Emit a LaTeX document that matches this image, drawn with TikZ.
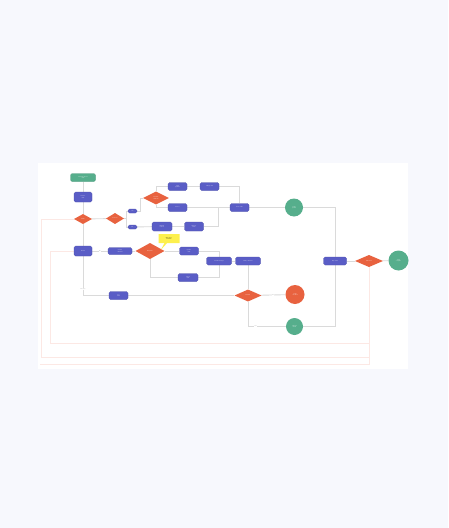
\documentclass[tikz,border=0pt]{standalone}
\usetikzlibrary{positioning,shapes.geometric,shapes.callouts,backgrounds}

\definecolor{pagebg}{HTML}{F7F8FD}
\definecolor{procblue}{HTML}{5A5DC6}
\definecolor{decred}{HTML}{E8623F}
\definecolor{termgreen}{HTML}{56AE8C}
\definecolor{noteyellow}{HTML}{FDF04D}
\definecolor{linegray}{HTML}{DADADA}
\definecolor{backred}{HTML}{FCE8E4}

\begin{document}
\begin{tikzpicture}[
  x=0.1cm, y=-0.1cm,
  font=\sffamily\fontsize{3.6}{4}\selectfont,
  proc/.style={rectangle, rounded corners=0.15cm, fill=procblue, draw=procblue!85!black, line width=0.6pt,
    minimum height=0.8cm, minimum width=1.9cm, inner sep=0pt, text=white, align=center},
  decision/.style={diamond, fill=decred, draw=none, minimum width=1.8cm, minimum height=1cm,
    inner sep=0pt, text=white, align=center},
  startbox/.style={rectangle, rounded corners=0.15cm, fill=termgreen, draw=termgreen!85!black, line width=0.6pt,
    minimum width=2.5cm, minimum height=0.8cm, inner sep=0pt, text=white, align=center},
  endpoint/.style={circle, fill=termgreen, draw=none, inner sep=0pt, text=white, align=center},
  stoppoint/.style={circle, fill=decred, draw=none, inner sep=0pt, text=white, align=center},
  note/.style={rectangle callout, fill=noteyellow, draw=none, minimum width=2.1cm, minimum height=0.9cm,
    inner sep=0pt, align=center, callout relative pointer={(-0.5cm,-0.7cm)}},
  link/.style={draw=linegray, line width=2.5pt},
  backlink/.style={draw=backred, line width=2.3pt},
  lbl/.style={fill=white, text=black!45, inner sep=0.6pt}
]
\begin{scope}[on background layer]
\fill[pagebg] (0,0) rectangle (448,528);
\fill[white] (37.5,163) rectangle (408,369);
\end{scope}
\useasboundingbox (0,0) rectangle (448,528);

% bend points
\coordinate (ca) at (41,357);
\coordinate (cb) at (50,343.3);
\coordinate (cc) at (39.5,364.3);
\coordinate (split) at (126,218.5);
\coordinate (rise) at (140,211);
\coordinate (merge) at (218,207.5);

% nodes
\node[startbox] (start) at (83,177.5) {Customer places\\order};
\node[proc, minimum width=1.8cm, minimum height=1cm] (recv) at (83,197) {Receive\\order};
\node[decision] (valid) at (83,219) {Valid?};
\node[decision, minimum height=1.1cm] (stock) at (115,218.5) {In stock?};
\node[proc, minimum width=0.9cm, minimum height=0.4cm] (yesbox) at (132.5,211) {Yes};
\node[proc, minimum width=0.9cm, minimum height=0.4cm] (nobox) at (132.5,227) {No};
\node[decision, minimum width=2.6cm, minimum height=1.3cm] (paym) at (156,198) {Payment\\method?};
\node[proc] (card) at (177.5,186.5) {Card\\payment};
\node[proc] (charge) at (209.5,186.5) {Charge card};
\node[proc] (invoice) at (177.5,207.5) {Invoice};
\node[proc, minimum width=2cm, minimum height=0.9cm] (reqstock) at (162,226.5) {Request\\restock};
\node[proc, minimum height=0.9cm] (restock) at (194,226.5) {Restock\\items};
\node[proc] (pack) at (239.5,207.5) {Pack order};
\node[endpoint, minimum size=1.8cm] (packed) at (294,207.5) {Order\\packed};
\node[proc, minimum width=2.3cm] (ship) at (335,261) {Ship order};
\node[decision, minimum width=2.8cm, minimum height=1.2cm] (deliv) at (369,261) {Delivered?};
\node[endpoint, minimum size=2cm] (done) at (398.5,260.5) {Order\\complete};

\node[proc, minimum width=1.8cm, minimum height=1cm] (review) at (83,251) {Review};
\node[proc, minimum width=2.4cm, minimum height=0.7cm] (contact) at (120,251) {Contact\\customer};
\node[decision, minimum width=2.9cm, minimum height=1.6cm] (reply) at (150,251) {Response?};
\node[note] (wait) at (169,238.5) {Wait up to\\48 hours};
\node[proc] (update) at (189,251) {Update\\order};
\node[proc, minimum width=2.5cm] (confirm) at (219,261) {Confirm changes};
\node[proc, minimum width=2cm] (cancel) at (188,277.5) {Cancel\\order};
\node[proc, minimum width=2.5cm] (notify) at (248,261) {Notify customer};
\node[decision, minimum width=2.7cm, minimum height=1.2cm] (refund) at (248,295.5) {Refund?};
\node[stoppoint, minimum size=1.9cm] (cancelled) at (295,294.5) {Order\\cancelled};
\node[endpoint, minimum size=1.7cm] (refunded) at (294.5,326.5) {Refund\\issued};
\node[proc] (logissue) at (118.5,295.5) {Log\\issue};

% connectors, kept under the shapes
\begin{scope}[on background layer]
\draw[backlink] (deliv.south) |- (ca) |- (valid.west);
\draw[backlink] (deliv.south) |- (cb) |- (review.west);
\draw[backlink] (deliv.south) |- (cc);

\draw[link] (start) -- (recv);
\draw[link] (recv) -- (valid);
\draw[link] (valid) -- node[lbl] {Yes} (stock);
\draw[link] (stock) -- (split) |- (yesbox);
\draw[link] (split) |- (nobox);
\draw[link] (yesbox) -- (rise) |- (paym);
\draw[link] (paym.north) |- (card);
\draw[link] (card) -- (charge);
\draw[link] (charge) -| (pack);
\draw[link] (paym.south) |- (invoice);
\draw[link] (invoice) -- (pack);
\draw[link] (nobox) -- (reqstock);
\draw[link] (reqstock) -- (restock);
\draw[link] (restock) -| (merge);
\draw[link] (pack) -- (packed);
\draw[link] (packed) -| (ship);
\draw[link] (ship) -- (deliv);
\draw[link] (deliv) -- (done);

\draw[link] (valid) -- (review);
\draw[link] (review) -- node[lbl] {No} (contact);
\draw[link] (contact) -- (reply);
\draw[link] (reply) -- (update);
\draw[link] (update) -| (confirm);
\draw[link] (reply.south) |- (cancel);
\draw[link] (cancel) -| (confirm);
\draw[link] (confirm) -- (notify);
\draw[link] (notify) -- (refund);
\draw[link] (review) |- node[lbl, pos=0.42] {No reply} (logissue);
\draw[link] (logissue) -- (refund);
\draw[link] (refund) -- node[lbl] {No} (cancelled);
\draw[link] (refund) |- node[lbl, pos=0.6] {Yes} (refunded);
\draw[link] (refunded) -| (ship);
\end{scope}
\end{tikzpicture}
\end{document}
